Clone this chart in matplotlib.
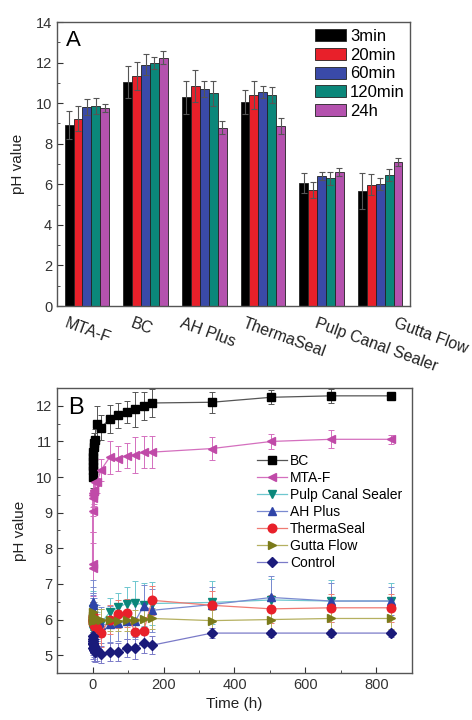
import numpy as np
import matplotlib
matplotlib.use("Agg")
import matplotlib.pyplot as plt
from matplotlib.transforms import ScaledTranslation
from matplotlib.ticker import MultipleLocator

plt.rcParams['font.family'] = ['Liberation Sans', 'DejaVu Sans']

# ---------------- Panel A data ----------------
materials = ["MTA-F", "BC", "AH Plus", "ThermaSeal", "Pulp Canal Sealer", "Gutta Flow"]
times_a = ["3min", "20min", "60min", "120min", "24h"]
ph_3min = [8.92, 11.05, 10.28, 10.07, 6.08, 5.68]
ph_20min = [9.24, 11.33, 10.84, 10.40, 5.71, 5.99]
ph_60min = [9.82, 11.90, 10.70, 10.56, 6.42, 6.01]
ph_120min = [9.87, 12.00, 10.48, 10.40, 6.29, 6.45]
ph_24h = [9.74, 12.25, 8.80, 8.87, 6.62, 7.08]
err_3min = [0.70, 0.80, 0.80, 0.60, 0.50, 0.90]
err_20min = [0.60, 0.70, 0.80, 0.70, 0.40, 0.50]
err_60min = [0.40, 0.50, 0.40, 0.30, 0.20, 0.30]
err_120min = [0.40, 0.30, 0.60, 0.40, 0.30, 0.30]
err_24h = [0.20, 0.30, 0.30, 0.40, 0.20, 0.20]

# ---------------- Panel B data ----------------
time_h = [0.05, 0.17, 0.33, 0.5, 1, 2, 3, 4, 6, 12, 24, 48, 72, 96, 120, 144, 168, 336, 504, 672, 840]
bc = [10.0, 10.2, 10.3, 10.45, 10.55, 10.7, 10.85, 10.95, 11.05, 11.5, 11.38, 11.63, 11.74, 11.83, 11.9, 12.0, 12.08, 12.1, 12.24, 12.28, 12.28]
bc_err = [0.3, 0.3, 0.3, 0.3, 0.3, 0.3, 0.3, 0.3, 0.3, 0.5, 0.35, 0.4, 0.35, 0.3, 0.5, 0.4, 0.4, 0.3, 0.2, 0.2, 0.1]
mta = [7.45, 7.55, 9.05, 9.4, 9.5, 9.55, 9.6, 9.65, 9.85, 9.85, 10.2, 10.55, 10.52, 10.6, 10.62, 10.7, 10.7, 10.8, 11.0, 11.06, 11.06]
mta_err = [0.7, 0.9, 0.6, 0.5, 0.5, 0.4, 0.4, 0.4, 0.35, 0.3, 0.3, 0.45, 0.35, 0.35, 0.5, 0.45, 0.45, 0.33, 0.22, 0.25, 0.12]
pulp = [6.3, 6.1, 5.9, 5.8, 5.75, 5.7, 5.8, 5.9, 5.85, 5.8, 5.9, 6.2, 6.34, 6.45, 6.47, 6.42, 6.45, 6.48, 6.55, 6.52, 6.52]
pulp_err = [0.5, 0.5, 0.4, 0.4, 0.4, 0.4, 0.4, 0.4, 0.4, 0.4, 0.4, 0.4, 0.4, 0.45, 0.6, 0.6, 0.6, 0.6, 0.6, 0.6, 0.5]
ahplus = [6.5, 6.4, 6.25, 6.1, 6.0, 6.2, 6.1, 6.0, 5.95, 5.9, 5.85, 5.87, 5.9, 5.95, 5.95, 6.38, 6.26, 6.42, 6.62, 6.52, 6.52]
ahplus_err = [0.6, 0.5, 0.5, 0.5, 0.5, 0.5, 0.5, 0.5, 0.5, 0.5, 0.5, 0.5, 0.5, 0.5, 0.5, 0.6, 0.6, 0.5, 0.6, 0.5, 0.4]
therma = [6.1, 6.0, 5.95, 6.05, 5.9, 6.0, 5.85, 5.95, 5.8, 5.75, 5.63, 6.0, 6.15, 6.18, 5.65, 5.68, 6.54, 6.4, 6.3, 6.33, 6.33]
therma_err = [0.4, 0.4, 0.4, 0.4, 0.4, 0.4, 0.4, 0.4, 0.4, 0.4, 0.4, 0.4, 0.4, 0.4, 0.4, 0.4, 0.4, 0.4, 0.4, 0.4, 0.4]
gutta = [6.2, 6.1, 6.05, 6.0, 5.95, 6.0, 6.05, 6.0, 6.0, 6.0, 6.0, 5.98, 5.97, 5.98, 5.98, 6.02, 6.03, 5.97, 6.0, 6.03, 6.03]
gutta_err = [0.3, 0.3, 0.3, 0.3, 0.3, 0.3, 0.3, 0.3, 0.3, 0.3, 0.3, 0.3, 0.3, 0.3, 0.3, 0.3, 0.3, 0.3, 0.3, 0.3, 0.3]
control = [5.55, 5.45, 5.4, 5.3, 5.35, 5.2, 5.25, 5.15, 5.1, 5.15, 5.02, 5.09, 5.1, 5.2, 5.2, 5.35, 5.28, 5.62, 5.62, 5.62, 5.62]
control_err = [0.3, 0.3, 0.3, 0.3, 0.3, 0.3, 0.3, 0.3, 0.3, 0.3, 0.25, 0.25, 0.25, 0.25, 0.3, 0.3, 0.25, 0.15, 0.1, 0.1, 0.1]

# ---------------- Figure ----------------
fig = plt.figure(figsize=(4.72, 7.2), dpi=100)
axA = fig.add_axes([0.1208, 0.575, 0.748, 0.3944])
axB = fig.add_axes([0.1208, 0.0653, 0.752, 0.3958])

spine_col = "#555555"
for ax in (axA, axB):
    for s in ax.spines.values():
        s.set_color(spine_col)
        s.set_linewidth(1.0)

# Panel A bars
bar_colors = ["#000000", "#e8202a", "#3a4aa8", "#0b877a", "#b452ae"]
series_a = [ph_3min, ph_20min, ph_60min, ph_120min, ph_24h]
errs_a = [err_3min, err_20min, err_60min, err_120min, err_24h]
x = np.arange(1, len(materials) + 1)
bw = 0.152
for i, (vals, errs, col, lab) in enumerate(zip(series_a, errs_a, bar_colors, times_a)):
    pos = x + (i - 2) * bw
    axA.bar(pos, vals, width=bw, color=col, edgecolor="#222222", linewidth=0.6, label=lab, zorder=2)
    axA.errorbar(pos, vals, yerr=errs, fmt="none", ecolor="#555555", elinewidth=0.8,
                 capsize=2.2, capthick=0.8, zorder=3)

axA.set_xlim(0.49, 6.51)
axA.set_ylim(0, 14)
axA.yaxis.set_major_locator(MultipleLocator(2))
axA.yaxis.set_minor_locator(MultipleLocator(1))
axA.tick_params(axis="y", which="both", direction="in", labelsize=10.5, colors="#333333")
axA.tick_params(axis="y", which="major", length=4)
axA.tick_params(axis="y", which="minor", length=2)
axA.tick_params(axis="x", length=0, pad=7)
axA.set_xticks(x)
axA.set_xticklabels(materials, rotation=-20, rotation_mode="anchor", ha="left", va="top",
                    fontsize=11.5, color="#222222")
offsets_px = [-19, -12, -21, -17, -3, 17]
for lbl, dx in zip(axA.get_xticklabels(), offsets_px):
    lbl.set_transform(lbl.get_transform() + ScaledTranslation(dx / 100, 0, fig.dpi_scale_trans))
axA.set_ylabel("pH value", fontsize=11, color="#222222", labelpad=8)
axA.text(0.025, 0.972, "A", transform=axA.transAxes, fontsize=16, va="top", ha="left")
axA.legend(loc="upper left", bbox_to_anchor=(0.731, 0.975), frameon=False, fontsize=12,
           handlelength=1.85, handleheight=0.72, labelspacing=0.22, handletextpad=0.25,
           borderpad=0, borderaxespad=0)

# Panel B lines
specs = [
    ("BC", bc, bc_err, "s", "#000000", "#555555"),
    ("MTA-F", mta, mta_err, "<", "#c04aa8", "#d46fbe"),
    ("Pulp Canal Sealer", pulp, pulp_err, "v", "#0b877a", "#6ec7cf"),
    ("AH Plus", ahplus, ahplus_err, "^", "#2f44a8", "#7a8ad0"),
    ("ThermaSeal", therma, therma_err, "o", "#e8202a", "#ef7a72"),
    ("Gutta Flow", gutta, gutta_err, ">", "#7a7a1a", "#b5b060"),
    ("Control", control, control_err, "D", "#1a1a7a", "#7a7ac8"),
]
for name, vals, errs, mk, mcol, lcol in specs:
    axB.errorbar(time_h, vals, yerr=errs, fmt="none", ecolor=lcol, elinewidth=0.7,
                 capsize=2.2, capthick=0.7, zorder=2)
    axB.plot(time_h, vals, color=lcol, linewidth=0.9, marker=mk, markersize=6.2 if mk != "D" else 5.3,
             markerfacecolor=mcol, markeredgecolor=mcol, label=name, zorder=3)

axB.set_xlim(-100, 900)
axB.set_ylim(4.5, 12.5)
axB.xaxis.set_major_locator(MultipleLocator(200))
axB.xaxis.set_minor_locator(MultipleLocator(100))
axB.yaxis.set_major_locator(MultipleLocator(1))
axB.yaxis.set_minor_locator(MultipleLocator(0.5))
axB.tick_params(which="both", direction="in", labelsize=10.5, colors="#333333")
axB.tick_params(which="major", length=4)
axB.tick_params(which="minor", length=2)
axB.set_ylabel("pH value", fontsize=11, color="#222222", labelpad=6)
axB.set_xlabel("Time (h)", fontsize=11, color="#222222", labelpad=4)
axB.text(0.031, 0.968, "B", transform=axB.transAxes, fontsize=17, va="top", ha="left")
axB.legend(loc="upper left", bbox_to_anchor=(0.563, 0.77), frameon=False, fontsize=10,
           handlelength=2.15, labelspacing=0.22, handletextpad=0.25, borderpad=0, borderaxespad=0)

fig.savefig("out.png", dpi=100)
